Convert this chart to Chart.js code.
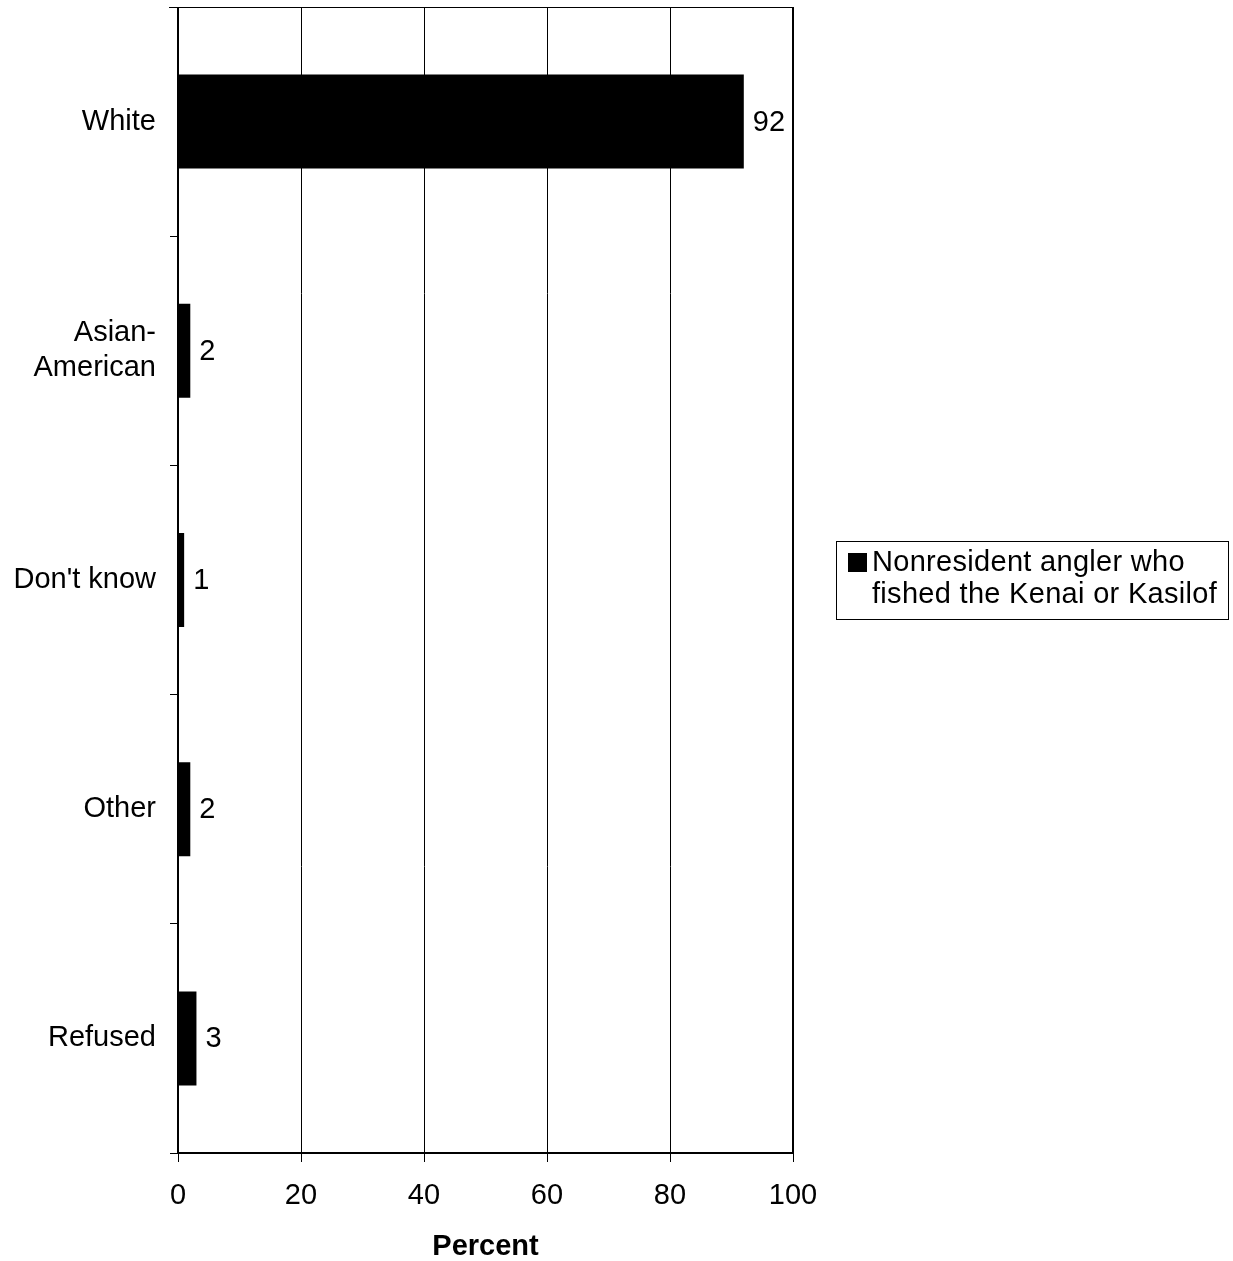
<!DOCTYPE html>
<html>
<head>
<meta charset="utf-8">
<script src="https://cdn.jsdelivr.net/npm/chart.js@4/dist/chart.umd.min.js"></script>
<style>
  html, body { margin: 0; padding: 0; background: #fff; }
  #wrap { position: relative; width: 1233px; height: 1261px; }
  #legend {
    position: absolute; left: 836px; top: 541px; width: 391px; height: 77px;
    border: 1px solid #000; box-sizing: content-box;
    font-family: "Liberation Sans", Arial, sans-serif; font-size: 29px; line-height: 32px;
    color: #000;
  }
  #legend .sw { position: absolute; left: 11px; top: 11px; width: 19px; height: 19px; background: #000; }
  #legend .txt { position: absolute; left: 35px; top: 3px; white-space: nowrap; letter-spacing: 0.3px; }
</style>
</head>
<body>
<div id="wrap">
  <canvas id="chart" width="1233" height="1261"></canvas>
  <div id="legend"><div class="sw"></div><div class="txt">Nonresident angler who<br>fished the Kenai or Kasilof</div></div>
</div>
<script>
// data
const categories = ['White', ['Asian-', 'American'], "Don't know", 'Other', 'Refused'];
const percents = [92, 2, 1, 2, 3];
const seriesName = 'Nonresident angler who fished the Kenai or Kasilof';
const xTicks = [0, 20, 40, 60, 80, 100];

const FONT = '"Liberation Sans", Arial, sans-serif';

// value labels right of each bar
const valueLabels = {
    id: 'valueLabels',
    afterDatasetsDraw(chart) {
        const ctx = chart.ctx;
        const meta = chart.getDatasetMeta(0);
        ctx.save();
        ctx.font = '29px ' + FONT;
        ctx.fillStyle = '#000';
        ctx.textAlign = 'left';
        ctx.textBaseline = 'middle';
        meta.data.forEach((bar, i) => {
            ctx.fillText(String(percents[i]), bar.x + 9, bar.y + 1);
        });
        ctx.restore();
    }
};

// frame round the plot area
const frame = {
    id: 'frame',
    afterDraw(chart) {
        const { left, right, top, bottom } = chart.chartArea;
        const ctx = chart.ctx;
        ctx.save();
        ctx.strokeStyle = '#000';
        ctx.lineWidth = 1;
        ctx.beginPath();
        ctx.moveTo(left - 9, top + 0.5);
        ctx.lineTo(right, top + 0.5);
        ctx.stroke();
        ctx.lineWidth = 2;
        ctx.beginPath();
        ctx.moveTo(right, top);
        ctx.lineTo(right, bottom);
        ctx.moveTo(left, bottom);
        ctx.lineTo(right + 1, bottom);
        ctx.moveTo(left, top);
        ctx.lineTo(left, bottom + 1);
        ctx.stroke();
        ctx.restore();
    }
};

new Chart(document.getElementById('chart'), {
    type: 'bar',
    data: {
        labels: categories,
        datasets: [{
            label: seriesName,
            data: percents,
            backgroundColor: '#000',
            borderWidth: 0,
            barPercentage: 0.82,
            categoryPercentage: 0.5
        }]
    },
    options: {
        indexAxis: 'y',
        responsive: false,
        animation: false,
        layout: { padding: { left: 0, top: 7, right: 440, bottom: 0 } },
        plugins: {
            legend: { display: false },
            tooltip: { enabled: false }
        },
        scales: {
            x: {
                min: 0, max: 100,
                afterFit: s => { s.height = 108; s.paddingLeft = 0; s.paddingRight = 0; },
                afterBuildTicks: s => { s.ticks = xTicks.map(v => ({ value: v })); },
                grid: { color: '#000', lineWidth: 1, tickLength: 9, drawOnChartArea: true },
                border: { display: false },
                ticks: { color: '#000', font: { family: FONT, size: 29 }, padding: 17 },
                title: {
                    display: true, text: 'Percent', color: '#000',
                    font: { family: FONT, size: 29, weight: 'bold', lineHeight: 1 },
                    padding: { top: 0, bottom: 0 }
                }
            },
            y: {
                afterFit: s => { s.width = 178; s.paddingTop = 0; s.paddingBottom = 0; },
                grid: { offset: true, drawOnChartArea: false, color: '#000', tickLength: 8 },
                border: { display: false },
                ticks: { color: '#000', font: { family: FONT, size: 29, lineHeight: 1.2 }, padding: 14 }
            }
        }
    },
    plugins: [valueLabels, frame]
});
</script>
</body>
</html>
